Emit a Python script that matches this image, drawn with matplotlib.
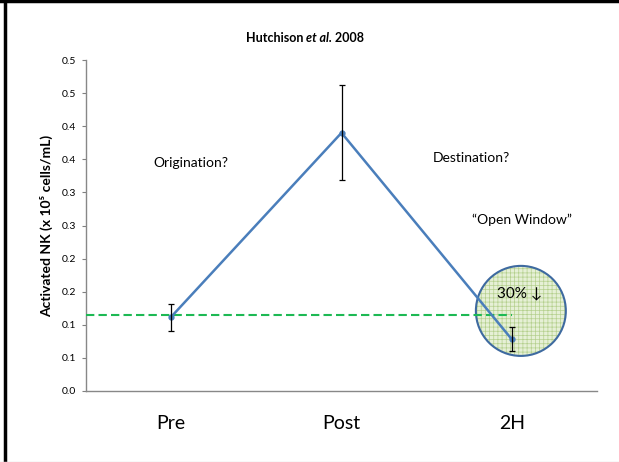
import matplotlib
matplotlib.use("Agg")
import matplotlib.pyplot as plt
from matplotlib.patches import Ellipse
from matplotlib.ticker import FixedLocator, FixedFormatter

categories = ["Pre", "Post", "2H"]
values = [0.112, 0.390, 0.078]
err_low = [0.021, 0.072, 0.018]
err_high = [0.019, 0.072, 0.018]
baseline = 0.1155
ytick_vals = [0.0, 0.05, 0.10, 0.15, 0.20, 0.25, 0.30, 0.35, 0.40, 0.45, 0.50]
ytick_labels = ["0.0", "0.1", "0.1", "0.2", "0.2", "0.3", "0.3", "0.4", "0.4", "0.5", "0.5"]

plt.rcParams['font.family'] = ['Lato', 'DejaVu Sans']
plt.rcParams['hatch.color'] = "#B5D08E"

fig = plt.figure(figsize=(6.19, 4.62), dpi=100)
W, H = 619, 462
ax = fig.add_axes([86 / W, 1 - 391 / H, (597 - 86) / W, (391 - 60) / H])

x = list(range(len(categories)))
ax.plot(x, values, color="#4A7EBB", lw=1.8, marker="o", ms=3.5, zorder=4)
ax.errorbar(x, values, yerr=[err_low, err_high], fmt="none", ecolor="black",
            elinewidth=0.9, capsize=2.5, capthick=0.9, zorder=5)

ax.plot([-0.5, 2.0], [baseline, baseline], color="#1DB954", lw=1.5,
        dashes=(4, 2), zorder=3)

ell = dict(xy=(0.851, 0.242), width=0.176, height=0.272, transform=ax.transAxes)
circ = Ellipse(**ell, facecolor="#E6F0D6", edgecolor="none", lw=0, zorder=2)
ax.add_patch(circ)
circ2 = Ellipse(**ell, facecolor="none", edgecolor="#B5D08E", lw=0, zorder=2.1,
                hatch="++++")
circ2.set_hatch_linewidth(0.5)
ax.add_patch(circ2)
circ3 = Ellipse(**ell, facecolor="none", edgecolor="#3E6AA0", lw=1.5, zorder=2.2)
ax.add_patch(circ3)

ax.set_xlim(-0.5, 2.5)
ax.set_ylim(0, 0.5)
ax.set_xticks(x)
ax.set_xticklabels(categories, fontsize=14)
ax.tick_params(axis="x", length=0, pad=17)
ax.yaxis.set_major_locator(FixedLocator(ytick_vals))
ax.yaxis.set_major_formatter(FixedFormatter(ytick_labels))
ax.tick_params(axis="y", labelsize=7.5, length=3, color="#808080", pad=4)
for s in ["top", "right"]:
    ax.spines[s].set_visible(False)
for s in ["left", "bottom"]:
    ax.spines[s].set_color("#888888")
    ax.spines[s].set_linewidth(1)

ax.set_ylabel("Activated NK (x 10\u2075 cells/mL)", fontsize=10, fontweight="bold", labelpad=6)

ax.text(-0.107, 0.344, "Origination?", fontsize=10, va="center", ha="left")
ax.text(1.537, 0.352, "Destination?", fontsize=10, va="center", ha="left")
ax.text(1.766, 0.258, "\u201cOpen Window\u201d", fontsize=10, va="center", ha="left")
ax.text(2.048, 0.148, "30% \u2193", fontsize=11, va="center", ha="center", zorder=6)

# title with italic "et al."
fig.canvas.draw()
r = fig.canvas.get_renderer()
parts = [("Hutchison ", "normal"), ("et al.", "italic"), (" 2008", "normal")]
ty = 1 - 38 / H
texts = []
for s, st in parts:
    t = fig.text(0, ty, s, fontsize=9, fontweight="bold", style=st, ha="left", va="center")
    texts.append(t)
widths = [t.get_window_extent(r).width for t in texts]
total = sum(widths)
xpos = 305 - total / 2
for t, w in zip(texts, widths):
    t.set_x(xpos / W)
    xpos += w

# slide border
fig.add_artist(plt.Line2D([4.5 / W, 4.5 / W], [0, 1], transform=fig.transFigure, color="black", lw=2.5))
fig.add_artist(plt.Line2D([0, 1], [1 - 1 / H, 1 - 1 / H], transform=fig.transFigure, color="black", lw=2.5))
fig.add_artist(plt.Line2D([0, 1], [0.5 / H, 0.5 / H], transform=fig.transFigure, color="#DDDDDD", lw=1))

fig.savefig("out.png", dpi=100)
